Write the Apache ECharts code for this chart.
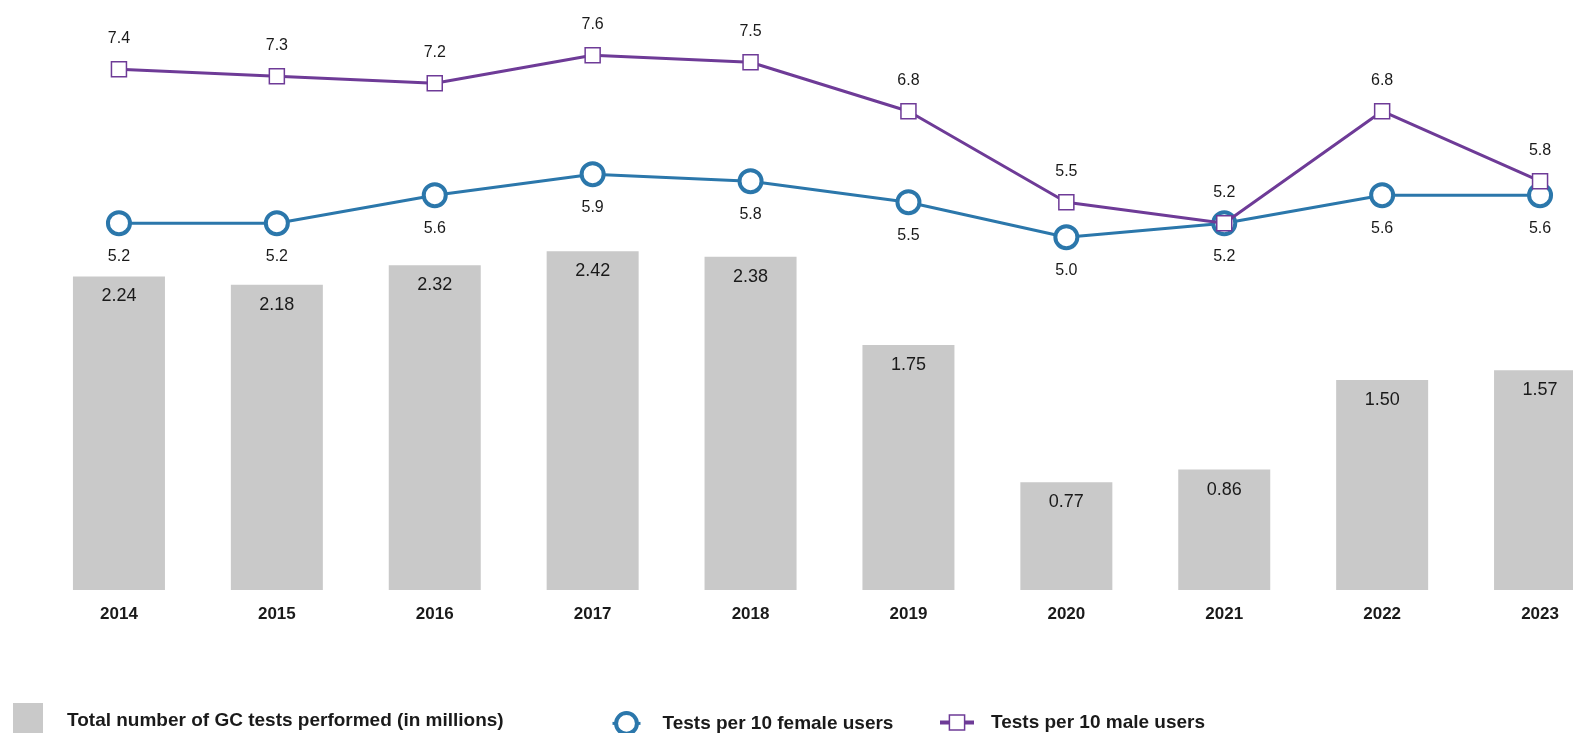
<!DOCTYPE html>
<html>
<head>
<meta charset="utf-8">
<script src="https://cdn.jsdelivr.net/npm/echarts@6/dist/echarts.min.js"></script>
<style>
  html, body { margin: 0; padding: 0; background: #ffffff; }
  #chart { width: 1573px; height: 733px; }
</style>
</head>
<body>
<div id="chart"></div>
<script>
// Gonorrhoea (GC) testing, 2014–2023
const years = ['2014', '2015', '2016', '2017', '2018', '2019', '2020', '2021', '2022', '2023'];
const totalTests = [2.24, 2.18, 2.32, 2.42, 2.38, 1.75, 0.77, 0.86, 1.50, 1.57];      // millions
const femaleRate = [5.2, 5.2, 5.6, 5.9, 5.8, 5.5, 5.0, 5.2, 5.6, 5.6];                // per 10 users
const maleRate = [7.4, 7.3, 7.2, 7.6, 7.5, 6.8, 5.5, 5.2, 6.8, 5.8];                  // per 10 users

const NAME_TOTAL = 'Total number of GC tests performed (in millions)';
const NAME_FEMALE = 'Tests per 10 female users';
const NAME_MALE = 'Tests per 10 male users';

const FONT = '"Liberation Sans", Arial, sans-serif';
const BAR_COLOR = '#c9c9c9';
const BLUE = '#2b77ab';
const PURPLE = '#6e3b97';

const chart = echarts.init(document.getElementById('chart'), null, { renderer: 'canvas' });

const legendText = { fontFamily: FONT, fontSize: 19, fontWeight: 'bold', color: '#1a1a1a' };

chart.setOption({
  animation: false,
  backgroundColor: '#ffffff',
  textStyle: { fontFamily: FONT },
  // the last column runs off the right edge of the canvas
  grid: { left: 40, top: 30, width: 1579, height: 560, containLabel: false, outerBoundsMode: 'none' },
  legend: [
    {
      data: [{ name: NAME_TOTAL, icon: 'rect' }],
      left: 8, top: 698,
      itemWidth: 30, itemHeight: 36,
      textStyle: Object.assign({ padding: [0, 0, 0, 19] }, legendText)
    },
    {
      data: [NAME_FEMALE],
      left: 606, top: 706,
      itemWidth: 28, itemHeight: 26,
      itemStyle: { color: '#ffffff', borderColor: BLUE, borderWidth: 4 },
      lineStyle: { color: BLUE, width: 3 },
      textStyle: Object.assign({ padding: [0, 0, 0, 17] }, legendText)
    },
    {
      data: [NAME_MALE],
      left: 933, top: 708,
      itemWidth: 34, itemHeight: 19,
      itemStyle: { color: '#ffffff', borderColor: PURPLE, borderWidth: 1.5 },
      lineStyle: { color: PURPLE, width: 4 },
      textStyle: Object.assign({ padding: [0, 0, 0, 12] }, legendText)
    }
  ],
  xAxis: {
    type: 'category',
    data: years,
    axisLine: { show: false },
    axisTick: { show: false },
    axisLabel: {
      margin: 16,
      fontFamily: FONT,
      fontSize: 17,
      fontWeight: 'bold',
      color: '#1a1a1a'
    }
  },
  yAxis: [
    { type: 'value', min: 0, max: 4, show: false, splitLine: { show: false } },
    { type: 'value', min: -0.04, max: 7.96, show: false, splitLine: { show: false } }
  ],
  series: [
    {
      name: NAME_TOTAL,
      type: 'bar',
      data: totalTests,
      yAxisIndex: 0,
      barWidth: 92,
      itemStyle: { color: BAR_COLOR },
      label: {
        show: true,
        position: 'insideTop',
        distance: 11,
        fontFamily: FONT,
        fontSize: 18,
        color: '#1a1a1a',
        formatter: p => p.value.toFixed(2)
      }
    },
    {
      name: NAME_FEMALE,
      type: 'line',
      data: femaleRate,
      yAxisIndex: 1,
      symbol: 'circle',
      symbolSize: 22,
      lineStyle: { color: BLUE, width: 3 },
      itemStyle: { color: '#ffffff', borderColor: BLUE, borderWidth: 4 },
      label: {
        show: true,
        position: 'bottom',
        distance: 12,
        fontFamily: FONT,
        fontSize: 16,
        color: '#1a1a1a',
        formatter: p => p.value.toFixed(1)
      },
      z: 3
    },
    {
      name: NAME_MALE,
      type: 'line',
      data: maleRate,
      yAxisIndex: 1,
      symbol: 'rect',
      symbolSize: 15,
      lineStyle: { color: PURPLE, width: 3 },
      itemStyle: { color: '#ffffff', borderColor: PURPLE, borderWidth: 1.5 },
      label: {
        show: true,
        position: 'top',
        distance: 14,
        fontFamily: FONT,
        fontSize: 16,
        color: '#1a1a1a',
        formatter: p => p.value.toFixed(1)
      },
      z: 4
    }
  ]
});
</script>
</body>
</html>
